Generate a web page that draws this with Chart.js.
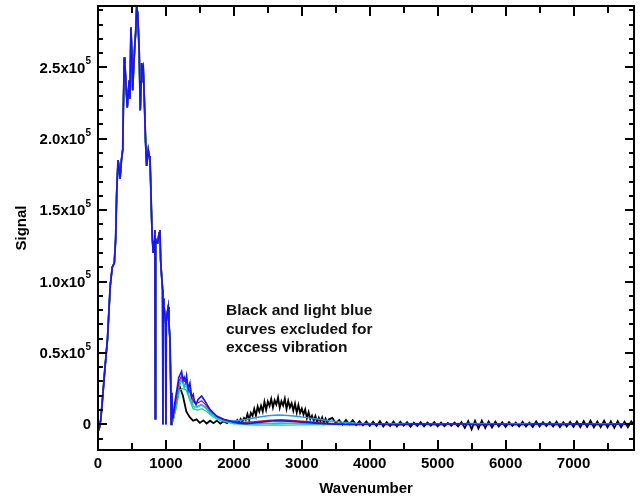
<!DOCTYPE html>
<html>
<head>
<meta charset="utf-8">
<title>Signal vs Wavenumber</title>
<script src="https://cdn.jsdelivr.net/npm/chart.js@4.4.0/dist/chart.umd.min.js"></script>
<style>
    html, body { margin: 0; padding: 0; background: #fff; }
    #wrap { width: 640px; height: 496px; }
</style>
</head>
<body>
<div id="wrap"><canvas id="spectrum-chart" width="640" height="496"></canvas></div>
<script>
// Common part of every spectrum (0 - 1100 cm-1), the curves overlap here
const peakWn = [0, 20, 40, 60, 100, 140, 180, 210, 240, 260, 275, 295, 310, 325, 345, 365, 372, 387, 395, 401,
    415, 431, 445, 460, 470, 485, 498, 510, 525, 540, 555, 569, 584, 595, 607, 622, 635, 643, 655, 666,
    681, 701, 716, 728, 740, 754, 765, 778, 790, 800, 813, 825, 838, 843, 848, 860, 878, 900, 912, 922,
    935, 951, 956, 961, 971, 985, 995, 1000, 1005, 1020, 1034, 1045, 1059, 1070, 1078, 1085, 1095];
const peakSig = [0, -2500, 3000, 14000, 38000, 60000, 97000, 110000, 113000, 130000, 162000, 185000, 180000, 172000, 185000, 193000, 218000, 257000, 252000, 248000,
    235000, 222000, 232000, 241000, 228000, 278000, 260000, 234000, 250000, 264000, 275000, 292000, 288000, 275000, 260000, 220000, 240000, 253000, 248000, 250000,
    229000, 197000, 181000, 186000, 192000, 188000, 187000, 165000, 143000, 130000, 120000, 128000, 136000, 4000, 130000, 127000, 127000, 134000, 136000, 115000,
    105000, 94000, 0, 88000, 83000, 76000, 70000, 0, 72000, 78000, 82000, 70000, 60000, 30000, 0, 22000, 8000];

// Tails of the individual runs from 1100 cm-1 on
const blueWn = [1100, 1130, 1150, 1190, 1231, 1250, 1269, 1290, 1304, 1328, 1353, 1378, 1401, 1420, 1441, 1475, 1525, 1574, 1647, 1746,
    1850, 1941, 2050, 2190, 2400, 2600, 2800, 3000, 3200, 3500, 3800, 4100, 4400, 4700, 5000, 5300, 5600, 5900, 6200, 6500,
    6800, 7100, 7400, 7700, 7900];
const blueSig = [4000, 15000, 21000, 33000, 37000, 31000, 33000, 30000, 34000, 24500, 29000, 19000, 21000, 16000, 14000, 17500, 19800, 16300, 10500, 5800,
    3500, 2300, 1000, 500, 1500, 2500, 2200, 1500, 800, 0, -300, 200, -400, 300, -200, 400, -500, 200, -300, 300,
    -200, 300, -300, 200, 0];

const redWn = [1100, 1140, 1190, 1231, 1269, 1304, 1340, 1378, 1420, 1475, 1525, 1580, 1650, 1750, 1850, 1950, 2100, 2300, 2500, 2700,
    2900, 3100, 3300, 3600, 4000, 5000, 6000, 7000, 7900];
const redSig = [3500, 14000, 30000, 34000, 30000, 31000, 24000, 19000, 15000, 15000, 16500, 14000, 9500, 5500, 3200, 2000, 1200, 1800, 2800, 3200,
    2600, 1800, 1000, 300, 0, 200, 0, 200, 0];

const cyanWn = [1100, 1140, 1190, 1231, 1269, 1304, 1340, 1378, 1420, 1475, 1525, 1580, 1650, 1750, 1850, 1950, 2100, 2300, 2500, 2700,
    2900, 3100, 3400, 4000, 5000, 6000, 7000, 7900];
const cyanSig = [2500, 12000, 26000, 31000, 26000, 27000, 20000, 15000, 12000, 12500, 13500, 11500, 8000, 4500, 2500, 1200, 300, 200, 600, 900,
    600, 300, 0, 0, 300, 100, 300, 100];

const greenWn = [1100, 1150, 1200, 1250, 1300, 1350, 1400, 1470, 1530, 1600, 1700, 1800, 1900, 2000, 2200, 2400, 2600, 2800, 3000, 3300,
    3700, 4500, 5500, 6500, 7900];
const greenSig = [2000, 11000, 24000, 25000, 24000, 17000, 11000, 10000, 11000, 9000, 5000, 2800, 1500, 500, -300, -600, -500, -600, -400, -200,
    0, 200, 0, 200, 0];

const lightWn = [1100, 1130, 1160, 1200, 1240, 1270, 1300, 1330, 1360, 1390, 1420, 1460, 1520, 1580, 1650, 1750, 1850, 1950, 2050, 2200,
    2350, 2500, 2650, 2800, 2950, 3100, 3250, 3400, 3600, 3800, 4100, 4500, 5000, 5500, 6000, 6500, 7000, 7500, 7900];
const lightSig = [3000, 12000, 20000, 28000, 33000, 26000, 30000, 22000, 25000, 15000, 17000, 12000, 14000, 12000, 8000, 5000, 3000, 2500, 2500, 3500,
    5000, 6000, 6500, 6200, 5500, 4500, 3500, 2500, 1500, 800, 400, 600, 300, 500, 300, 500, 300, 400, 300];

// noisy run, finer steps over the 2100 - 3400 hump
const blackWn = [1100, 1150, 1200, 1250, 1300, 1350, 1400, 1450, 1500, 1550, 1600, 1650, 1700, 1750, 1800, 1850, 1900, 1950, 2000, 2050,
    2075, 2100, 2125, 2150, 2175, 2200, 2225, 2250, 2275, 2300, 2325, 2350, 2375, 2400, 2425, 2450, 2475, 2500, 2525, 2550,
    2575, 2600, 2625, 2650, 2675, 2700, 2725, 2750, 2775, 2800, 2825, 2850, 2875, 2900, 2925, 2950, 2975, 3000, 3025, 3050,
    3075, 3100, 3125, 3150, 3175, 3200, 3225, 3250, 3275, 3300, 3325, 3350, 3375, 3400,
    3450, 3500, 3550, 3600, 3650, 3700, 3750, 3800, 3850, 3900, 3950, 4000, 4050,
    4100, 4150, 4200, 4250, 4300, 4350, 4400, 4450, 4500, 4550, 4600, 4650, 4700, 4750, 4800, 4850, 4900, 4950, 5000, 5050,
    5100, 5150, 5200, 5250, 5300, 5350, 5400, 5450, 5500, 5550, 5600, 5650, 5700, 5750, 5800, 5850, 5900, 5950, 6000, 6050,
    6100, 6150, 6200, 6250, 6300, 6350, 6400, 6450, 6500, 6550, 6600, 6650, 6700, 6750, 6800, 6850, 6900, 6950, 7000, 7050,
    7100, 7150, 7200, 7250, 7300, 7350, 7400, 7450, 7500, 7550, 7600, 7650, 7700, 7750, 7800, 7850, 7900];
const blackSig = [2000, 14000, 27000, 20000, 9000, 5000, 2500, 3500, 1000, 2800, 600, 2500, 800, 2600, 500, 2200, 800, 2400, 700, 3000,
    1200, 3800, 1800, 4500, 3000, 7200, 3200, 8000, 5800, 10800, 6000, 12500, 8800, 13000, 9000, 15800, 10200, 16000, 12800, 17800,
    11800, 16800, 13800, 18800, 11500, 16200, 13200, 18000, 10800, 16500, 11800, 14800, 9500, 14500, 8200, 13500, 8000, 11000, 6800, 10500,
    4200, 8500, 3500, 6000, 2500, 5800, 1200, 4600, 2000, 4800, 800, 4000, 1200, 3500,
    4500, 800, 3000, -200, 3000, 0, 2800, -500, 2200, -800, 2000, -1000, 1800,
    -1200, 2200, -1500, 1500, -1200, 2000, -1500, 1800, -1000, 1500, -1800, 1200, -1200, 1500, -1500, 1300, -1000, 1500, -1500, 1200,
    -1300, 1000, -1000, 1200, -1500, 1500, -2500, 2200, -3500, 2500, -3000, 2500, -2500, 2000, -2200, 1800, -1500, 1500, -1800, 1500,
    -1200, 1200, -1500, 1800, -1500, 1200, -1800, 2000, -1500, 1500, -1200, 1500, -1500, 1800, -2000, 1500, -1500, 1800, -1800, 2000,
    -2000, 2200, -1800, 2500, -2200, 2000, -2000, 2500, -2200, 2000, -2500, 2200, -2000, 1800, -2000, 2000, -1000];

// Axis labels
const xTickValues = [0, 1000, 2000, 3000, 4000, 5000, 6000, 7000];
const yTickValues = [0, 50000, 100000, 150000, 200000, 250000];
const yTickMantissa = ['0', '0.5', '1.0', '1.5', '2.0', '2.5'];
const noteLines = ['Black and light blue', 'curves excluded for', 'excess vibration'];

const FONT = '"Liberation Sans", Arial, Helvetica, sans-serif';

function toPoints(wnA, sigA, wnB, sigB) {
    const pts = wnA.map((w, i) => ({ x: w, y: sigA[i] }));
    return pts.concat(wnB.map((w, i) => ({ x: w, y: sigB[i] })));
}

function lineSet(label, wn, sig, color, width) {
    return {
        label: label,
        data: toPoints(peakWn, peakSig, wn, sig),
        borderColor: color,
        borderWidth: width,
        pointRadius: 0,
        tension: 0,
        fill: false
    };
}

// Frame, inward tick marks, tick labels (y ones with exponent) and the note
const frameTicks = {
    id: 'frameTicks',
    afterDraw(chart) {
        const { ctx, chartArea: a, scales: { x, y } } = chart;
        ctx.save();
        ctx.strokeStyle = '#000';
        ctx.lineWidth = 2;
        ctx.strokeRect(a.left, a.top, a.right - a.left, a.bottom - a.top);

        ctx.beginPath();
        for (let v = 0; v <= 7500; v += 500) {
            const px = Math.round(x.getPixelForValue(v));
            const len = v % 1000 ? 7 : 10;
            ctx.moveTo(px, a.bottom); ctx.lineTo(px, a.bottom - len);
            ctx.moveTo(px, a.top); ctx.lineTo(px, a.top + len);
        }
        for (let v = -10000; v <= 290000; v += 10000) {
            const py = Math.round(y.getPixelForValue(v));
            const len = v % 50000 ? 5 : 9;
            ctx.moveTo(a.left, py); ctx.lineTo(a.left + len, py);
            ctx.moveTo(a.right, py); ctx.lineTo(a.right - len, py);
        }
        ctx.stroke();

        ctx.fillStyle = '#000';
        ctx.textBaseline = 'middle';

        // x tick labels
        ctx.font = 'bold 15px ' + FONT;
        ctx.textAlign = 'center';
        xTickValues.forEach(v => {
            ctx.fillText(String(v), x.getPixelForValue(v), a.bottom + 14);
        });

        // y tick labels, e.g. 2.5x10^5
        const rightEdge = 91;
        yTickValues.forEach((v, i) => {
            const py = y.getPixelForValue(v);
            if (v === 0) {
                ctx.font = 'bold 15px ' + FONT;
                ctx.textAlign = 'right';
                ctx.fillText(yTickMantissa[i], rightEdge, py + 1);
                return;
            }
            ctx.font = 'bold 10px ' + FONT;
            const supW = ctx.measureText('5').width;
            ctx.textAlign = 'left';
            ctx.fillText('5', rightEdge - supW, py - 6);
            ctx.font = 'bold 15px ' + FONT;
            ctx.textAlign = 'right';
            ctx.fillText(yTickMantissa[i] + 'x10', rightEdge - supW, py + 1);
        });

        // note inside the plot
        ctx.font = 'bold 15.5px ' + FONT;
        ctx.textAlign = 'left';
        ctx.fillStyle = '#111';
        noteLines.forEach((line, i) => {
            ctx.fillText(line, 226, 311 + i * 18.5);
        });
        ctx.restore();
    }
};

const ctx = document.getElementById('spectrum-chart').getContext('2d');
const spectrumChart = new Chart(ctx, {
    type: 'line',
    data: {
        datasets: [
            lineSet('Run 1', blueWn, blueSig, '#1414ff', 1.6),
            lineSet('Run 2', redWn, redSig, '#e01010', 1.3),
            lineSet('Run 3', cyanWn, cyanSig, '#10c8d8', 1.3),
            lineSet('Run 4', greenWn, greenSig, '#10d870', 1.3),
            lineSet('Run 5', lightWn, lightSig, '#1e9cff', 1.5),
            lineSet('Run 6', blackWn, blackSig, '#000000', 1.8)
        ]
    },
    options: {
        responsive: false,
        animation: false,
        layout: { padding: { top: 6, right: 6, left: 0, bottom: 0 } },
        plugins: {
            legend: { display: false },
            tooltip: { enabled: false }
        },
        scales: {
            x: {
                type: 'linear',
                min: 0,
                max: 7890,
                grid: { display: false, drawTicks: false },
                border: { display: false },
                ticks: { display: false },
                title: {
                    display: true,
                    text: 'Wavenumber',
                    color: '#000',
                    font: { family: FONT, size: 15, weight: 'bold', lineHeight: 1 },
                    padding: { top: 0, bottom: 0 }
                },
                afterFit: scale => { scale.height = 46; }
            },
            y: {
                type: 'linear',
                min: -18000,
                max: 293000,
                grid: { display: false, drawTicks: false },
                border: { display: false },
                ticks: { display: false },
                title: {
                    display: true,
                    text: 'Signal',
                    color: '#000',
                    font: { family: FONT, size: 15, weight: 'bold', lineHeight: 1.2 },
                    padding: { top: 13, bottom: 0 }
                },
                afterFit: scale => { scale.width = 98; }
            }
        }
    },
    plugins: [frameTicks]
});
</script>
</body>
</html>
